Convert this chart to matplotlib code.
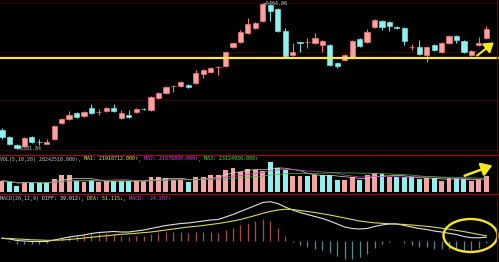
import numpy as np
import pandas as pd
import matplotlib
matplotlib.use("Agg")
import matplotlib.pyplot as plt
from matplotlib.patches import Ellipse, FancyArrowPatch
from matplotlib.lines import Line2D

W, H = 499, 262

# daily candles (index points)
opens = [3827, 3737, 3633, 3620, 3737, 3675, 3646, 3711, 3917, 3969,
         4046, 4007, 4110, 4057, 4072, 4110, 3982, 4020, 4059, 4099,
         4085, 4239, 4304, 4392, 4394, 4407, 4433, 4549, 4575, 4638,
         4652, 4897, 4961, 5077, 5142, 5232, 5438, 5387, 5103, 4794,
         4961, 4958, 4948, 4922, 4922, 4690, 4729, 4768, 5000, 4961,
         5155, 5232, 5219, 5155, 5142, 4891, 4897, 4794, 4922, 4832,
         4948, 5039, 4974, 4794, 4922, 5013]
closes = [3737, 3646, 3595, 3724, 3672, 3669, 3672, 3878, 3969, 4020,
          3994, 4059, 4046, 4061, 4110, 4072, 4046, 3994, 4097, 4095,
          4252, 4304, 4381, 4396, 4446, 4381, 4562, 4600, 4626, 4641,
          4832, 4947, 5090, 5193, 5206, 5451, 5361, 5103, 4781, 4832,
          4948, 4962, 5013, 4974, 4665, 4652, 4794, 4974, 4910, 5090,
          5245, 5155, 5168, 5142, 4974, 4896, 4807, 4897, 4858, 4948,
          5039, 4987, 4832, 4845, 4948, 5129]
highs = [3853, 3749, 3646, 3737, 3749, 3711, 3711, 3891, 3982, 4072,
         4059, 4072, 4162, 4098, 4123, 4162, 4085, 4085, 4110, 4110,
         4265, 4317, 4394, 4407, 4459, 4420, 4600, 4613, 4639, 4652,
         4845, 4961, 5116, 5271, 5219, 5464.06, 5451, 5400, 5142, 4948,
         4965, 5013, 5077, 4987, 4935, 4703, 4807, 4987, 5013, 5129,
         5258, 5245, 5232, 5168, 5155, 4935, 4987, 4910, 4935, 4961,
         5051, 5051, 4987, 4858, 5026, 5168]
lows = [3711, 3633, 3581.84, 3608, 3659, 3633, 3640, 3698, 3904, 3956,
        3982, 3994, 4033, 4020, 4059, 4059, 3969, 3982, 4046, 4085,
        4072, 4226, 4291, 4317, 4381, 4368, 4420, 4497, 4562, 4536,
        4639, 4884, 4947, 5064, 5129, 5219, 5232, 5090, 4768, 4781,
        4832, 4884, 4935, 4832, 4652, 4626, 4716, 4755, 4897, 4948,
        5142, 5116, 5103, 5129, 4922, 4858, 4794, 4703, 4845, 4819,
        4935, 4948, 4819, 4781, 4910, 5000]

volumes = [20.1e6, 18.4e6, 11.4e6, 17.3e6, 18.4e6, 16.6e6, 16.6e6, 22.5e6, 30.5e6, 30.5e6,
           20.1e6, 18.4e6, 21.3e6, 17.3e6, 19.6e6, 20.1e6, 20.1e6, 20.1e6, 19.6e6, 19.6e6,
           27.0e6, 27.0e6, 25.1e6, 21.7e6, 21.7e6, 18.4e6, 26.0e6, 26.0e6, 30.0e6, 31.2e6,
           39.9e6, 43.3e6, 35.7e6, 41.6e6, 39.0e6, 38.1e6, 52.5e6, 43.3e6, 38.6e6, 28.2e6,
           28.2e6, 28.2e6, 31.2e6, 31.2e6, 31.2e6, 21.3e6, 21.3e6, 26.5e6, 21.3e6, 31.2e6,
           34.0e6, 31.7e6, 26.0e6, 27.0e6, 26.0e6, 26.0e6, 22.5e6, 24.3e6, 24.3e6, 20.1e6,
           24.3e6, 24.3e6, 23.0e6, 20.1e6, 22.5e6, 28242510]
vol_up = [1, 0, 0, 1, 0, 0, 0, 1, 1, 1,
          0, 1, 0, 1, 1, 0, 0, 0, 1, 1,
          1, 1, 1, 1, 1, 0, 1, 1, 1, 1,
          1, 1, 1, 1, 1, 1, 0, 0, 0, 1,
          1, 0, 1, 0, 0, 0, 1, 1, 0, 1,
          1, 0, 1, 0, 0, 0, 0, 1, 0, 1,
          1, 0, 0, 1, 1, 1]

diff = [27, 20, 5, 0, -5, -5, -5, 10, 25, 40,
        50, 60, 75, 85, 90, 95, 90, 90, 100, 110,
        125, 140, 155, 165, 175, 180, 190, 200, 210, 215,
        240, 265, 295, 325, 355, 385, 393, 375, 340, 310,
        285, 265, 245, 225, 200, 170, 140, 125, 120, 125,
        145, 160, 170, 170, 155, 140, 125, 115, 100, 90,
        77, 65, 45, 33, 32, 39.012]
dea = [27, 25, 20, 17, 12, 10, 7, 7, 10, 15,
       22, 30, 37, 45, 52, 60, 67, 72, 77, 84,
       90, 100, 110, 120, 130, 140, 147, 155, 165, 175,
       187, 200, 215, 235, 255, 277, 295, 310, 317, 315,
       305, 295, 285, 272, 260, 245, 230, 215, 200, 190,
       182, 177, 173, 170, 165, 160, 153, 147, 138, 128,
       118, 106, 94, 80, 66, 51.115]

support_level = 4755
high_label = "\u21905464.06"
low_label = "\u21903581.84"
vol_header = [("VOL(5,10,20) 28242510.000\u2191", "#c8c8c8"), (", ", "#c8c8c8"),
              ("MA1: 21910712.000\u2191", "#e8e840"), (", ", "#c8c8c8"),
              ("MA2: 21876890.000\u2191", "#e040e0"), (", ", "#c8c8c8"),
              ("MA3: 23124936.000\u2191", "#40e040")]
macd_header = [("MACD(26,12,9) ", "#c8c8c8"), ("DIFF: 39.012\u2191", "#e8e8e8"),
               (", ", "#c8c8c8"), ("DEA: 51.115\u2193", "#e8e840"),
               (", ", "#c8c8c8"), ("MACD: -24.207\u2191", "#e040e0")]

UP_FACE, UP_EDGE = "#f4a4a4", "#ff7070"
DN_FACE, DN_EDGE = "#8ff0f0", "#6ee0e0"

x = np.arange(len(opens))
o = np.array(opens, float)
c = np.array(closes, float)
up = c >= o

fig = plt.figure(figsize=(W / 100, H / 100), dpi=100, facecolor="black")


def fx(px):
    return px / W


def fy(py):
    return 1 - py / H


def panel(top, bottom):
    a = fig.add_axes([0, fy(bottom), 1, (bottom - top) / H])
    a.set_facecolor("black")
    a.set_axis_off()
    a.set_xlim(-0.27, 66.71)
    return a


# main price panel
ax = panel(0, 155)
ax.set_ylim(5502.74 - 12.892 * 155, 5502.74)
for lvl in [5464, 4832, 4213, 3569]:
    ax.axhline(lvl, color="#2e0606", lw=0.8, zorder=0)
ax.axhline(support_level, color="#ffe640", lw=1.6, zorder=3)
ax.vlines(x, lows, highs, colors=np.where(up, UP_EDGE, DN_EDGE), lw=0.8, zorder=1)
ax.bar(x, np.maximum(np.abs(c - o), 1), bottom=np.minimum(o, c), width=0.7,
       color=np.where(up, UP_FACE, DN_FACE), edgecolor=np.where(up, UP_EDGE, DN_EDGE),
       linewidth=0.5, zorder=2)
ax.text(35.1, 5464.06, high_label, color="#d0d0d0", fontsize=3.6,
        family="DejaVu Sans Mono", va="center", ha="left")
ax.text(2.1, 3581.84, low_label, color="#c8c8c8", fontsize=3.6,
        family="DejaVu Sans Mono", va="center", ha="left")

# volume panel
ax2 = panel(155.5, 193.5)
ax2.set_ylim(-2.08e6, 64.6e6)
vu = np.array(vol_up, bool)
ax2.bar(x, volumes, width=0.66, color=np.where(vu, UP_FACE, DN_FACE), linewidth=0)
vs = pd.Series(volumes)
ax2.plot(x, vs.rolling(5, min_periods=1).mean(), color="#e0e0a0", lw=0.5)
ax2.plot(x, vs.rolling(10, min_periods=1).mean(), color="#d040d0", lw=0.5)
ax2.plot(x, vs.rolling(20, min_periods=1).mean(), color="#40c040", lw=0.5)

# macd panel
ax3 = panel(193.5, 262)
ax3.set_ylim(-210, 475)
d = np.array(diff, float)
e = np.array(dea, float)
hist = 2 * (d - e)
ax3.vlines(x, 0, hist, colors=np.where(hist >= 0, "#a84848", "#4a9090"), lw=0.9)
ax3.plot(x, d, color="#e0e0e0", lw=0.8)
ax3.plot(x, e, color="#d8d840", lw=0.8)

# separators and border
for py in (155, 193.5):
    fig.add_artist(Line2D([0, 1], [fy(py), fy(py)], color="#901010", lw=1.0,
                          transform=fig.transFigure))
fig.add_artist(Line2D([fx(497), fx(497)], [0, 1], color="#500808", lw=1.0,
                      transform=fig.transFigure))

# header texts
FS = 3.0 / 0.602 * 0.72


def put_segments(py, segments, x0=0.0, cw=3.0):
    px = x0
    for s, col in segments:
        fig.text(fx(px), fy(py), s, color=col, fontsize=FS, family="DejaVu Sans Mono",
                 va="center", ha="left")
        px += len(s) * cw


put_segments(159, vol_header)
put_segments(198.5, macd_header)

# yellow annotations
YEL = "#f5e61e"
fig.add_artist(FancyArrowPatch((fx(475), fy(57.3)), (fx(496), fy(40.7)),
                               arrowstyle="-|>,head_length=0.6,head_width=0.4",
                               mutation_scale=9, color=YEL, lw=1.5,
                               transform=fig.transFigure))
fig.add_artist(FancyArrowPatch((fx(462), fy(176.7)), (fx(495), fy(164.5)),
                               arrowstyle="-|>,head_length=0.7,head_width=0.45",
                               mutation_scale=9, color=YEL, lw=1.8,
                               transform=fig.transFigure))
fig.add_artist(Ellipse((fx(470.5), fy(235.5)), 54 / W, 33 / H, fill=False,
                       edgecolor=YEL, lw=1.7, transform=fig.transFigure))

fig.savefig("out.png", dpi=100, facecolor="black")
